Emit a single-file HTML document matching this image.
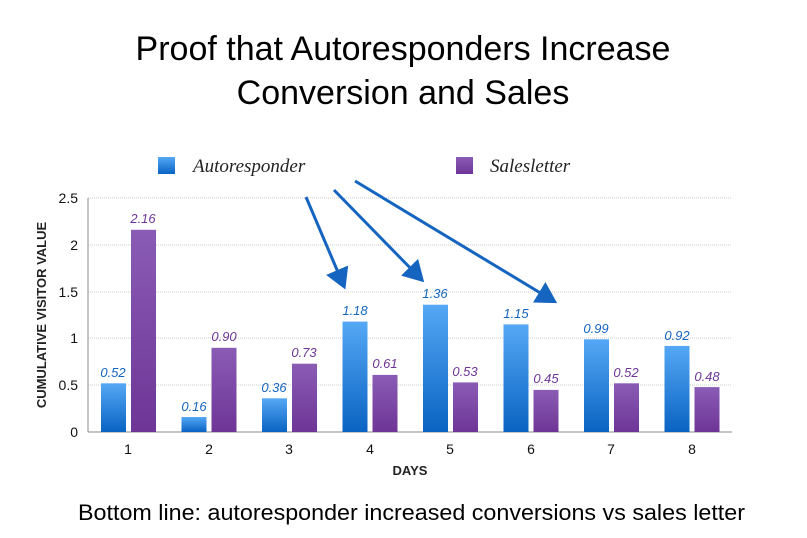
<!DOCTYPE html>
<html><head><style>
body{margin:0;background:#fff;}
svg{display:block;font-family:"Liberation Sans",sans-serif;}
</style></head><body>
<svg width="807" height="538" xmlns="http://www.w3.org/2000/svg">
<defs>
<linearGradient id="gb" x1="0" y1="0" x2="0" y2="1"><stop offset="0" stop-color="#55a8f5"/><stop offset="1" stop-color="#0a63c2"/></linearGradient>
<linearGradient id="gp" x1="0" y1="0" x2="0" y2="1"><stop offset="0" stop-color="#8a5cb5"/><stop offset="1" stop-color="#6e3596"/></linearGradient>
<marker id="ah" markerWidth="8" markerHeight="8" refX="5" refY="4" orient="auto" markerUnits="strokeWidth"><path d="M0,0 L7,4 L0,8 z" fill="#1565c0"/></marker>
</defs>
<text x="403" y="60" font-size="34" text-anchor="middle" fill="#000">Proof that Autoresponders Increase</text>
<text x="403" y="104" font-size="34" text-anchor="middle" fill="#000">Conversion and Sales</text>
<rect x="158" y="157" width="17" height="17" fill="url(#gb)"/>
<text x="193" y="172" font-size="19" font-style="italic" font-family="Liberation Serif,serif" fill="#222">Autoresponder</text>
<rect x="456" y="157" width="17" height="17" fill="url(#gp)"/>
<text x="490" y="172" font-size="19" font-style="italic" font-family="Liberation Serif,serif" fill="#222">Salesletter</text>
<g stroke="#ccc" stroke-dasharray="1,1">
<line x1="88" y1="198" x2="732" y2="198"/><line x1="88" y1="245" x2="732" y2="245"/><line x1="88" y1="292" x2="732" y2="292"/><line x1="88" y1="338" x2="732" y2="338"/><line x1="88" y1="385" x2="732" y2="385"/>
</g>
<line x1="88" y1="198" x2="88" y2="432" stroke="#888"/>
<line x1="88" y1="432" x2="732" y2="432" stroke="#888"/>
<g font-size="14" text-anchor="end" fill="#111">
<text x="78" y="203">2.5</text><text x="78" y="250">2</text><text x="78" y="297">1.5</text><text x="78" y="343">1</text><text x="78" y="390">0.5</text><text x="78" y="437">0</text>
</g>
<text transform="translate(46,315) rotate(-90)" font-size="13" font-weight="bold" text-anchor="middle" fill="#222">CUMULATIVE VISITOR VALUE</text>
<text x="410" y="475" font-size="13" font-weight="bold" text-anchor="middle" fill="#222">DAYS</text>
<g>
<rect x="101" y="383.3" width="25" height="48.7" fill="url(#gb)"/><rect x="131" y="229.8" width="25" height="202.2" fill="url(#gp)"/>
<rect x="181.5" y="417" width="25" height="15" fill="url(#gb)"/><rect x="211.5" y="347.8" width="25" height="84.2" fill="url(#gp)"/>
<rect x="262" y="398.3" width="25" height="33.7" fill="url(#gb)"/><rect x="292" y="363.7" width="25" height="68.3" fill="url(#gp)"/>
<rect x="342.5" y="321.6" width="25" height="110.4" fill="url(#gb)"/><rect x="372.5" y="374.9" width="25" height="57.1" fill="url(#gp)"/>
<rect x="423" y="304.7" width="25" height="127.3" fill="url(#gb)"/><rect x="453" y="382.4" width="25" height="49.6" fill="url(#gp)"/>
<rect x="503.5" y="324.4" width="25" height="107.6" fill="url(#gb)"/><rect x="533.5" y="389.9" width="25" height="42.1" fill="url(#gp)"/>
<rect x="584" y="339.3" width="25" height="92.7" fill="url(#gb)"/><rect x="614" y="383.3" width="25" height="48.7" fill="url(#gp)"/>
<rect x="664.5" y="345.9" width="25" height="86.1" fill="url(#gb)"/><rect x="694.5" y="387.1" width="25" height="44.9" fill="url(#gp)"/>
</g>
<g font-size="13" font-style="italic" text-anchor="middle" fill="#1565c0">
<text x="113" y="377">0.52</text><text x="194" y="411">0.16</text><text x="274" y="392">0.36</text><text x="355" y="315">1.18</text><text x="435" y="298">1.36</text><text x="516" y="318">1.15</text><text x="596" y="333">0.99</text><text x="677" y="340">0.92</text>
</g>
<g font-size="13" font-style="italic" text-anchor="middle" fill="#6e3596">
<text x="143" y="223">2.16</text><text x="224" y="341">0.90</text><text x="304" y="357">0.73</text><text x="385" y="368">0.61</text><text x="465" y="376">0.53</text><text x="546" y="383">0.45</text><text x="626" y="377">0.52</text><text x="707" y="381">0.48</text>
</g>
<g font-size="14" text-anchor="middle" fill="#111">
<text x="128" y="454">1</text><text x="209" y="454">2</text><text x="289" y="454">3</text><text x="370" y="454">4</text><text x="450" y="454">5</text><text x="531" y="454">6</text><text x="611" y="454">7</text><text x="692" y="454">8</text>
</g>
<g stroke="#1565c0" stroke-width="3" fill="none" marker-end="url(#ah)">
<line x1="306" y1="197" x2="343" y2="284"/>
<line x1="334" y1="190" x2="420" y2="278"/>
<line x1="355" y1="181" x2="552" y2="300"/>
</g>
<text x="78" y="520" font-size="22" textLength="667" lengthAdjust="spacingAndGlyphs" fill="#000">Bottom line: autoresponder increased conversions vs sales letter</text>
</svg>
</body></html>
